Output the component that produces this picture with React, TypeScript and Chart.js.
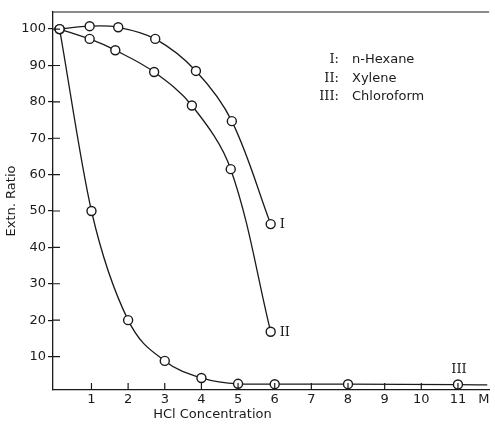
import React, { useEffect, useRef } from "react";
import { Chart, registerables } from "chart.js";

Chart.register(...registerables);

// HCl concentration (M) and extraction ratio (%)
const hexaneX = [0.13, 0.95, 1.73, 2.74, 3.85, 4.83, 5.89];
const hexaneY = [100, 100.8, 100.5, 97.3, 88.5, 74.7, 46.4];
const xyleneX = [0.13, 0.95, 1.65, 2.71, 3.74, 4.8, 5.89];
const xyleneY = [100, 97.3, 94.2, 88.2, 79, 61.5, 16.8];
const chloroX = [0.13, 1, 2, 3, 4, 5, 6, 8, 11, 11.8];
const chloroY = [100, 50, 20, 8.8, 4.1, 2.5, 2.4, 2.4, 2.3, 2.2];

const xTickValues = [1, 2, 3, 4, 5, 6, 7, 8, 9, 10, 11];
const xUnitLabel = "M";
const yTickValues = [10, 20, 30, 40, 50, 60, 70, 80, 90, 100];
const seriesNumerals = ["I", "II", "III"];
const seriesNames = ["n-Hexane", "Xylene", "Chloroform"];
const xTitle = "HCl Concentration";
const yTitle = "Extn. Ratio";

const INK = "#1a1a1a";
const SANS = "'DejaVu Sans', sans-serif";
const SERIF = "'DejaVu Serif', serif";

const toPoints = (xs: number[], ys: number[]) => xs.map((x, i) => ({ x, y: ys[i] }));

const decor = {
  id: "decor",
  afterDraw(chart: any) {
    const ctx = chart.ctx as CanvasRenderingContext2D;
    const { left, right, top, bottom } = chart.chartArea;
    const xs = chart.scales.x;
    const ys = chart.scales.y;
    ctx.save();
    ctx.strokeStyle = INK;
    ctx.lineWidth = 1.2;
    ctx.beginPath();
    ctx.moveTo(left, top);
    ctx.lineTo(right, top);
    xTickValues.forEach((v) => {
      const px = xs.getPixelForValue(v);
      ctx.moveTo(px, bottom);
      ctx.lineTo(px, bottom - 7);
    });
    yTickValues.forEach((v) => {
      const py = ys.getPixelForValue(v);
      ctx.moveTo(left, py);
      ctx.lineTo(left + 7, py);
    });
    ctx.stroke();

    ctx.fillStyle = INK;
    ctx.textBaseline = "middle";
    // legend block
    const legendTop = top + 48;
    seriesNumerals.forEach((n, i) => {
      const y = legendTop + i * 18.5;
      ctx.font = `13px ${SERIF}`;
      ctx.textAlign = "right";
      ctx.fillText(n + ":", left + 286, y);
      ctx.font = `13px ${SANS}`;
      ctx.textAlign = "left";
      ctx.fillText(seriesNames[i], left + 299, y);
    });

    // curve labels
    ctx.font = `13px ${SERIF}`;
    ctx.textAlign = "left";
    const m0 = chart.getDatasetMeta(0).data;
    const p0 = m0[m0.length - 1];
    ctx.fillText(seriesNumerals[0], p0.x + 9, p0.y + 1);
    const m1 = chart.getDatasetMeta(1).data;
    const p1 = m1[m1.length - 1];
    ctx.fillText(seriesNumerals[1], p1.x + 9, p1.y + 1);
    const m2 = chart.getDatasetMeta(2).data;
    const p2 = m2[8];
    ctx.textAlign = "center";
    ctx.fillText(seriesNumerals[2], p2.x + 1, p2.y - 15);

    // x axis title
    ctx.font = `13px ${SANS}`;
    ctx.textAlign = "center";
    ctx.fillText(xTitle, xs.getPixelForValue(4.3), bottom + 25);
    ctx.restore();
  },
};

export default function App() {
  const ref = useRef<HTMLCanvasElement | null>(null);
  useEffect(() => {
    if (!ref.current) return;
    const ds = (data: any[], radii?: number[]) => ({
      data,
      borderColor: INK,
      borderWidth: 1.3,
      backgroundColor: "#fff",
      pointBackgroundColor: "#fff",
      pointBorderColor: INK,
      pointBorderWidth: 1.4,
      pointRadius: radii ?? 4.5,
      fill: false,
    });
    const chart = new Chart(ref.current, {
      type: "scatter",
      data: {
        datasets: [
          { ...ds(toPoints(hexaneX, hexaneY)), showLine: true, tension: 0.35, label: seriesNames[0] },
          { ...ds(toPoints(xyleneX, xyleneY)), showLine: true, tension: 0.35, label: seriesNames[1] },
          {
            ...ds(toPoints(chloroX, chloroY), chloroX.map((_, i) => (i === chloroX.length - 1 ? 0 : 4.5))),
            showLine: true,
            cubicInterpolationMode: "monotone" as const,
            label: seriesNames[2],
          },
        ],
      },
      options: {
        animation: false,
        responsive: false,
        layout: { padding: { top: 12, right: 5, left: 0, bottom: 0 } },
        plugins: { legend: { display: false }, tooltip: { enabled: false } },
        scales: {
          x: {
            type: "linear",
            min: -0.05,
            max: 11.85,
            afterFit: (s: any) => {
              s.height = 38;
            },
            afterBuildTicks: (s: any) => {
              s.ticks = [...xTickValues.map((v) => ({ value: v })), { value: 11.71 }];
            },
            ticks: {
              color: INK,
              font: { family: SANS, size: 13 },
              padding: 2,
              autoSkip: false,
              maxRotation: 0,
              callback: (v: any) => (xTickValues.includes(v) ? String(v) : xUnitLabel),
            },
            grid: { display: false, drawTicks: false },
            border: { display: true, color: INK, width: 1.3 },
          },
          y: {
            type: "linear",
            min: 0.8,
            max: 104.7,
            afterFit: (s: any) => {
              s.width = 53;
            },
            afterBuildTicks: (s: any) => {
              s.ticks = yTickValues.map((v) => ({ value: v }));
            },
            ticks: {
              color: INK,
              font: { family: SANS, size: 13 },
              padding: 2,
            },
            grid: { drawOnChartArea: false, drawTicks: true, tickLength: 5, color: INK, lineWidth: 1.2 },
            border: { display: true, color: INK, width: 1.3 },
            title: {
              display: true,
              text: yTitle,
              color: INK,
              font: { family: SANS, size: 13 },
              padding: { top: 4, bottom: 0 },
            },
          },
        },
      },
      plugins: [decor],
    });
    return () => chart.destroy();
  }, []);
  return (
    <div style={{ position: "fixed", left: 0, top: 0, width: 495, height: 428, background: "#fff" }}>
      <canvas ref={ref} width={495} height={428} />
    </div>
  );
}
